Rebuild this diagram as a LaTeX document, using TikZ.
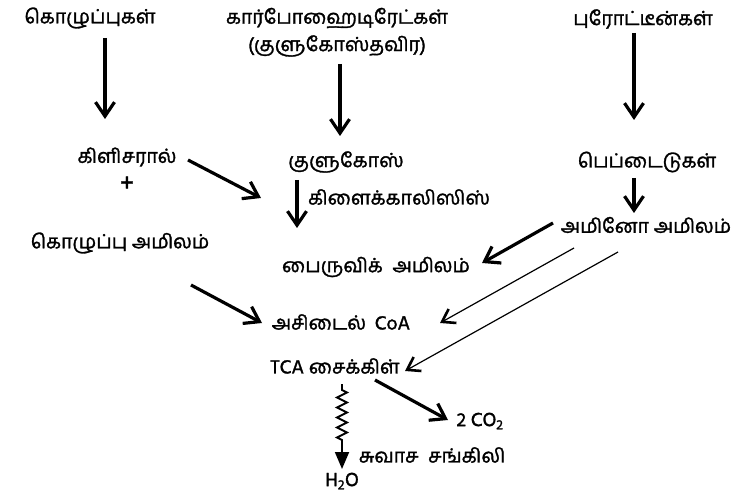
\documentclass[tikz,border=0pt]{standalone}
\usepackage{fontspec}
\newfontfamily\tafont[Script=Tamil,FakeBold=1.5]{Hind Madurai}
\usetikzlibrary{arrows.meta,decorations.pathmorphing}
\begin{document}
\begin{tikzpicture}[x=1pt,y=-1pt,
  lbl/.style={inner sep=0pt, font=\tafont\fontsize{19.5}{23}\selectfont, align=center},
  thickarr/.style={line width=3.2pt, -{Straight Barb[length=14pt,width=19pt]}},
  thinarr/.style={line width=1.2pt, -{Straight Barb[length=12pt,width=16pt,line width=2.6pt]}},
  zigarr/.style={line width=1.8pt, -{Triangle[length=17pt,width=14pt]}}
]
\useasboundingbox (0,0) rectangle (747,494);
% labels
\node[lbl] (fats) at (90,18) {கொழுப்புகள்};
\node[lbl] (carb) at (337,18) {கார்போஹைடிரேட்கள்};
\node[lbl] (carb2) at (337,46) {(குளுகோஸ்தவிர)};
\node[lbl] (prot) at (643,19) {புரோட்டீன்கள்};
\node[lbl] (glyc) at (127,157) {கிளிசரால்};
\node[lbl, font=\tafont\fontsize{26}{28}\selectfont] (plus) at (127,184) {+};
\node[lbl] (fa) at (120,243) {கொழுப்பு அமிலம்};
\node[lbl] (gluc) at (346,162) {குளுகோஸ்};
\node[lbl] (glycol) at (399,197) {கிளைக்காலிஸிஸ்};
\node[lbl] (pep) at (647,162) {பெப்டைடுகள்};
\node[lbl] (amino) at (646,225) {அமினோ அமிலம்};
\node[lbl] (pyr) at (376,267) {பைருவிக்\hspace{5pt} அமிலம்};
\node[lbl] (acoa) at (341,322) {அசிடைல்\hspace{4pt} CoA};
\node[lbl] (tca) at (335,366) {TCA சைக்கிள்};
\node[lbl] (co2) at (480,421) {2 CO\textsubscript{2}};
\node[lbl] (resp) at (432,455) {சுவாச\hspace{5pt} சங்கிலி};
\node[lbl] (h2o) at (342,481) {H\textsubscript{2}O};
% arrow end points
\coordinate (fatsA) at (105,38);   \coordinate (fatsB) at (105,119);
\coordinate (carbA) at (340,64);   \coordinate (carbB) at (340,136);
\coordinate (protA) at (634,33);   \coordinate (protB) at (634,120);
\coordinate (glycA) at (188,160);  \coordinate (glycB) at (261,198);
\coordinate (glucA) at (297,180);  \coordinate (glucB) at (297,228);
\coordinate (pepA) at (634,178);   \coordinate (pepB) at (634,213);
\coordinate (amA) at (553,223);    \coordinate (amB) at (482,263);
\coordinate (amC) at (574,248);    \coordinate (amD) at (440,323);
\coordinate (amE) at (618,252);    \coordinate (amF) at (405,371);
\coordinate (faA) at (191,285);    \coordinate (faB) at (262,323);
\coordinate (tcaA) at (375,380);   \coordinate (tcaB) at (448,420);
\coordinate (zA) at (342,384);     \coordinate (zB) at (342,390);
\coordinate (zC) at (342,442);     \coordinate (zD) at (342,469);
% connectors
\draw[thickarr] (fatsA) -- (fatsB);
\draw[thickarr] (carbA) -- (carbB);
\draw[thickarr] (protA) -- (protB);
\draw[thickarr] (glycA) -- (glycB);
\draw[thickarr] (glucA) -- (glucB);
\draw[thickarr] (pepA) -- (pepB);
\draw[thickarr] (amA) -- (amB);
\draw[thinarr] (amC) -- (amD);
\draw[thinarr] (amE) -- (amF);
\draw[thickarr] (faA) -- (faB);
\draw[thickarr] (tcaA) -- (tcaB);
\draw[zigarr] (zA) -- (zB)
  decorate[decoration={zigzag,segment length=10pt,amplitude=5pt}]{-- (zC)} -- (zD);
\end{tikzpicture}
\end{document}
